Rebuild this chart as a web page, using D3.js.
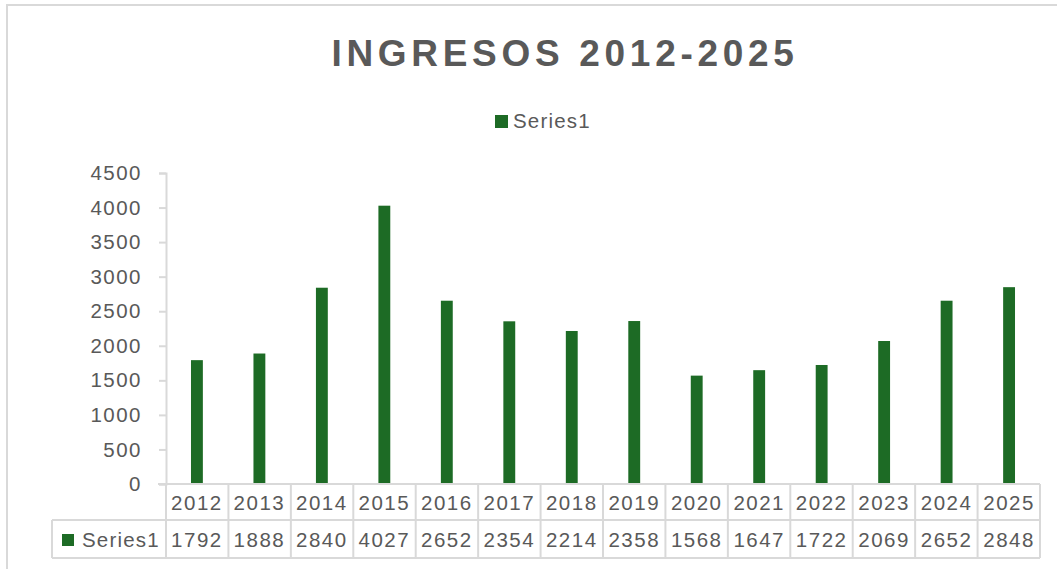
<!DOCTYPE html>
<html>
<head>
<meta charset="utf-8">
<script src="https://cdn.jsdelivr.net/npm/d3@7"></script>
<style>
  html, body { margin: 0; padding: 0; background: #fff; }
  svg { display: block; font-family: "Liberation Sans", Arial, sans-serif; }
</style>
</head>
<body>
<svg id="chart" width="1057" height="569"></svg>
<script>
// Ingresos por año
const years = ['2012', '2013', '2014', '2015', '2016', '2017', '2018', '2019', '2020', '2021', '2022', '2023', '2024', '2025'];
const ingresos = [1792, 1888, 2840, 4027, 2652, 2354, 2214, 2358, 1568, 1647, 1722, 2069, 2652, 2848];
const yTicks = [0, 500, 1000, 1500, 2000, 2500, 3000, 3500, 4000, 4500];
const seriesName = 'Series1';
const titulo = 'INGRESOS 2012-2025';

const barColor = '#1d6b25';
const textColor = '#595959';
const lineColor = '#d9d9d9';

const svg = d3.select('#chart');

// marco exterior (recortado por la derecha y abajo)
svg.append('path')
  .attr('d', 'M7,569 V5 H1057')
  .attr('fill', 'none')
  .attr('stroke', lineColor)
  .attr('stroke-width', 2);

const plot = { left: 166, right: 1040, top: 173, bottom: 484 };
const rowH = 37;

const x = d3.scaleBand()
  .domain(years)
  .range([plot.left, plot.right])
  .paddingInner(0.81)
  .paddingOuter(0.4);

const y = d3.scaleLinear()
  .domain([0, 4500])
  .range([plot.bottom, plot.top]);

// título
svg.append('text')
  .attr('x', 565)
  .attr('y', 66)
  .attr('text-anchor', 'middle')
  .attr('font-size', '37px')
  .attr('font-weight', 'bold')
  .attr('letter-spacing', '4.7px')
  .attr('fill', textColor)
  .text(titulo);

// leyenda
svg.append('rect')
  .attr('x', 495).attr('y', 115)
  .attr('width', 13).attr('height', 13)
  .attr('fill', barColor);
svg.append('text')
  .attr('x', 513).attr('y', 128)
  .attr('font-size', '20.5px')
  .attr('letter-spacing', '1.2px')
  .attr('fill', textColor)
  .text(seriesName);

const numFont = '20.5px';
const numSpacing = '1.5px';

// eje Y
const yAxis = svg.append('g')
  .attr('transform', `translate(${plot.left},0)`)
  .call(d3.axisLeft(y).tickValues(yTicks).tickSize(7).tickPadding(17).tickFormat(d3.format('d')));
yAxis.select('.domain').attr('stroke', lineColor).attr('stroke-width', 2);
yAxis.selectAll('.tick line').attr('stroke', lineColor).attr('stroke-width', 2);
yAxis.selectAll('.tick text')
  .attr('font-size', numFont)
  .attr('letter-spacing', numSpacing)
  .attr('fill', textColor)
  .attr('font-family', '"Liberation Sans", Arial, sans-serif');

// barras
const bandW = (plot.right - plot.left) / years.length;
svg.append('g')
  .selectAll('rect')
  .data(years)
  .join('rect')
  .attr('x', d => x(d))
  .attr('y', (d, i) => y(ingresos[i]))
  .attr('width', x.bandwidth())
  .attr('height', (d, i) => y(0) - y(ingresos[i]))
  .attr('fill', barColor);

// tabla de datos
const table = svg.append('g')
  .attr('stroke', lineColor)
  .attr('stroke-width', 2)
  .attr('fill', 'none');
const row1 = plot.bottom + rowH - 1;
const row2 = row1 + rowH + 1;

table.append('line').attr('x1', plot.left - 8).attr('x2', plot.right).attr('y1', plot.bottom).attr('y2', plot.bottom);
table.append('line').attr('x1', 52).attr('x2', plot.right).attr('y1', row1).attr('y2', row1);
table.append('line').attr('x1', 52).attr('x2', plot.right).attr('y1', row2).attr('y2', row2);
table.append('line').attr('x1', 52).attr('x2', 52).attr('y1', row1).attr('y2', row2);

const bounds = d3.range(years.length + 1).map(i => plot.left + i * bandW);
table.selectAll('line.v')
  .data(bounds)
  .join('line')
  .attr('class', 'v')
  .attr('x1', d => d).attr('x2', d => d)
  .attr('y1', plot.bottom).attr('y2', row2);

const cellX = d => x(d) + x.bandwidth() / 2;

svg.append('g')
  .selectAll('text')
  .data(years)
  .join('text')
  .attr('x', cellX)
  .attr('y', plot.bottom + 26)
  .attr('text-anchor', 'middle')
  .attr('font-size', numFont)
  .attr('letter-spacing', numSpacing)
  .attr('fill', textColor)
  .text(d => d);

svg.append('g')
  .selectAll('text')
  .data(years)
  .join('text')
  .attr('x', cellX)
  .attr('y', row1 + 27)
  .attr('text-anchor', 'middle')
  .attr('font-size', numFont)
  .attr('letter-spacing', numSpacing)
  .attr('fill', textColor)
  .text((d, i) => ingresos[i]);

svg.append('rect')
  .attr('x', 62).attr('y', 534)
  .attr('width', 12).attr('height', 12)
  .attr('fill', barColor);
svg.append('text')
  .attr('x', 82).attr('y', row1 + 27)
  .attr('font-size', numFont)
  .attr('letter-spacing', '1.2px')
  .attr('fill', textColor)
  .text(seriesName);
</script>
</body>
</html>
